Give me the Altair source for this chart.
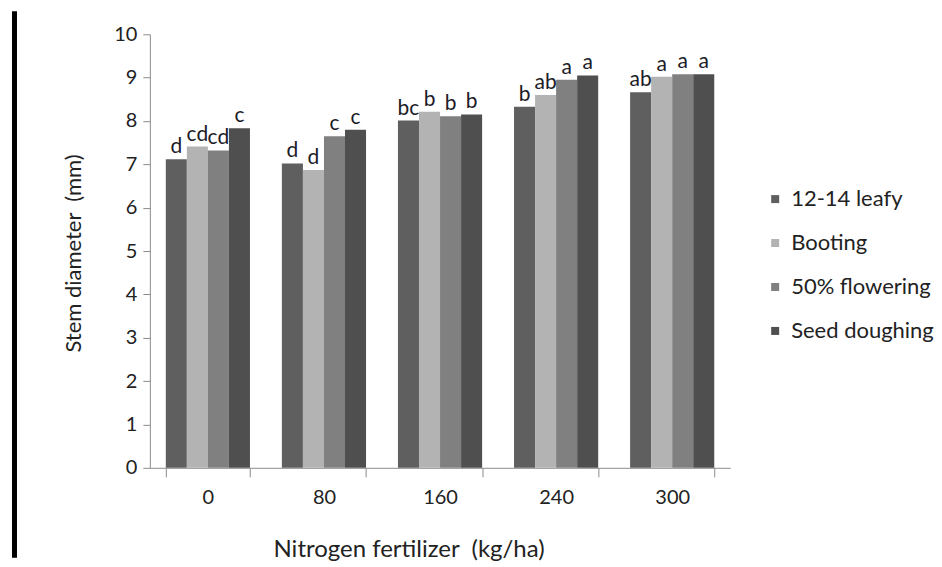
import altair as alt
import pandas as pd

nitrogen = ["0", "80", "160", "240", "300"]
stages = ["12-14 leafy", "Booting", "50% flowering", "Seed doughing"]
colors = ["#5f5f5f", "#b3b3b3", "#808080", "#4f4f4f"]

v_leafy = [7.12, 7.02, 8.01, 8.33, 8.66]
v_booting = [7.41, 6.87, 8.21, 8.60, 9.02]
v_flower = [7.32, 7.65, 8.11, 8.95, 9.08]
v_seed = [7.83, 7.80, 8.15, 9.05, 9.08]

l_leafy = ["d", "d", "bc", "b", "ab"]
l_booting = ["cd", "d", "b", "ab", "a"]
l_flower = ["cd", "c", "b", "a", "a"]
l_seed = ["c", "c", "b", "a", "a"]

rows = []
for stage, vals, labs in zip(stages, [v_leafy, v_booting, v_flower, v_seed],
                             [l_leafy, l_booting, l_flower, l_seed]):
    for n, v, l in zip(nitrogen, vals, labs):
        rows.append({"N": n, "stage": stage, "value": v, "label": l})
df = pd.DataFrame(rows)

x_enc = alt.X(
    "N:N", sort=nitrogen,
    scale=alt.Scale(paddingInner=0.275, paddingOuter=0.1375),
    axis=alt.Axis(
        title="Nitrogen fertilizer\u00a0\u00a0(kg/ha)", labelAngle=0, labelFontSize=20,
        labelColor="#222222", labelPadding=11, tickSize=9, tickBand="extent",
        domainColor="#8c8c8c", tickColor="#8c8c8c", titleFontSize=24,
        titleFontWeight="normal", titleColor="#222222", titleX=259, titleY=82,
        titleBaseline="middle",
    ),
)
xo_enc = alt.XOffset("stage:N", sort=stages, scale=alt.Scale(paddingInner=0, paddingOuter=0))
y_enc = alt.Y(
    "value:Q", scale=alt.Scale(domain=[0, 10], nice=False),
    axis=alt.Axis(
        title="Stem diameter\u00a0\u00a0(mm)", values=list(range(11)), labelFontSize=20,
        labelColor="#222222", labelPadding=6, tickSize=7, grid=False,
        domainColor="#8c8c8c", tickColor="#8c8c8c", titleFontSize=22,
        titleFontWeight="normal", titleColor="#222222", titleX=-69, titleY=219,
        titleBaseline="alphabetic",
    ),
)

bars = alt.Chart(df).mark_bar().encode(
    x=x_enc, xOffset=xo_enc, y=y_enc,
    color=alt.Color(
        "stage:N", sort=stages, scale=alt.Scale(domain=stages, range=colors),
        legend=alt.Legend(
            title=None, orient="none", legendX=615, legendY=154,
            symbolType="square", symbolSize=64, symbolStrokeWidth=0,
            labelFontSize=22, labelColor="#222222", labelOffset=5,
            rowPadding=22, padding=0,
        ),
    ),
)

texts = alt.Chart(df).mark_text(baseline="alphabetic", dy=-6, fontSize=21, color="#1c1c28").encode(
    x=alt.X("N:N", sort=nitrogen), xOffset=alt.XOffset("stage:N", sort=stages),
    y="value:Q", text="label:N",
)

rule = alt.Chart(pd.DataFrame({"a": [0]})).mark_rule(color="black", strokeWidth=5).encode(
    x=alt.value(-135.5), y=alt.value(-23), y2=alt.value(524)
)

chart = alt.layer(bars, texts, rule).properties(
    width=581, height=434, padding={"left": 4, "top": 0, "right": 0, "bottom": 0}
).configure(font="Lato").configure_view(strokeWidth=0)

chart.save("out.html", embed_options={"renderer": "svg", "actions": False})
